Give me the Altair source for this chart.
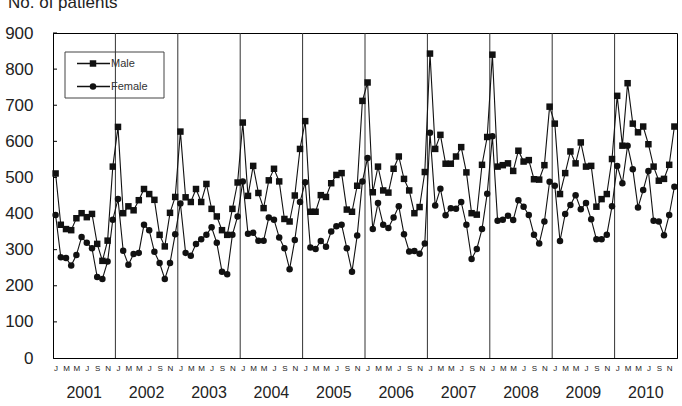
import altair as alt
import pandas as pd

years = [str(y) for y in range(2001, 2011)]
month_letters = ["J", "F", "M", "A", "M", "J", "J", "A", "S", "O", "N", "D"]
labelled_months = [0, 2, 4, 6, 8, 10]
y_ticks = [0, 100, 200, 300, 400, 500, 600, 700, 800, 900]
series_names = ["Male", "Female"]
title_text = "No. of patients"

male = [
    511, 369, 357, 354, 387, 401, 390, 399, 316, 269, 325, 530,  # 2001
    640, 401, 420, 409, 437, 468, 454, 438, 341, 309, 402, 446,  # 2002
    627, 445, 432, 468, 432, 482, 413, 392, 354, 341, 413, 486,  # 2003
    652, 449, 532, 457, 415, 492, 524, 489, 385, 378, 450, 579,  # 2004
    656, 405, 405, 451, 446, 484, 507, 512, 411, 405, 477, 712,  # 2005
    763, 459, 530, 464, 458, 524, 558, 496, 464, 401, 418, 515,  # 2006
    843, 579, 618, 538, 538, 558, 584, 514, 401, 397, 535, 612,  # 2007
    840, 530, 534, 539, 518, 574, 544, 548, 495, 494, 534, 696,  # 2008
    649, 454, 512, 572, 539, 597, 530, 532, 419, 440, 454, 551,  # 2009
    726, 588, 761, 649, 625, 641, 592, 530, 491, 496, 535, 641,  # 2010
]
female = [
    396, 279, 277, 256, 285, 335, 319, 304, 224, 219, 267, 383,  # 2001
    440, 297, 258, 288, 291, 369, 354, 294, 263, 219, 263, 343,  # 2002
    428, 291, 283, 316, 329, 341, 362, 319, 239, 232, 341, 392,  # 2003
    489, 344, 347, 325, 325, 389, 383, 334, 304, 246, 327, 432,  # 2004
    487, 306, 302, 324, 308, 350, 365, 369, 304, 239, 339, 489,  # 2005
    554, 357, 429, 369, 360, 389, 420, 343, 295, 296, 289, 317,  # 2006
    624, 422, 469, 395, 415, 413, 432, 369, 274, 302, 357, 455,  # 2007
    614, 380, 383, 394, 382, 437, 419, 396, 341, 317, 378, 488,  # 2008
    477, 324, 399, 424, 451, 412, 429, 384, 329, 329, 341, 420,  # 2009
    532, 484, 588, 523, 417, 465, 518, 380, 378, 340, 396, 474,  # 2010
]

n = len(male)
t = [i + 0.5 for i in range(n)]
df = pd.DataFrame({
    "t": t + t,
    "value": male + female,
    "series": ["Male"] * n + ["Female"] * n,
})

W, H = 624, 325
FONT = "Liberation Sans"
INK = "#111111"

xscale = alt.Scale(domain=[0, 12 * len(years)], nice=False, zero=False)
yscale = alt.Scale(domain=[0, 900], nice=False)

month_vals = [12 * k + m + 0.5 for k in range(len(years)) for m in labelled_months]
letters_js = "[" + ",".join("'%s'" % c for c in month_letters) + "]"

xaxis = alt.Axis(values=month_vals, labelExpr=letters_js + "[floor(datum.value) % 12]",
                 title=None, ticks=False, grid=False, domain=True, domainColor="black",
                 labelFontSize=8, labelFont=FONT, labelColor="#222", labelPadding=6,
                 labelOverlap=False, labelFlush=False, labelBaseline="top", labelAngle=0)
yaxis = alt.Axis(values=y_ticks, title=None, ticks=False, grid=False, domainColor="black",
                 labelFontSize=17, labelFont=FONT, labelColor="#222", labelPadding=20,
                 labelOverlap=False, labelFlush=False)

shape_scale = alt.Scale(domain=series_names, range=["square", "circle"])

base = alt.Chart(df)

lines = base.mark_line(color=INK, strokeWidth=1.1).encode(
    x=alt.X("t:Q", scale=xscale, axis=xaxis),
    y=alt.Y("value:Q", scale=yscale, axis=yaxis),
    detail="series:N",
)

points = base.mark_point(filled=True, size=42, color=INK, opacity=1).encode(
    x=alt.X("t:Q", scale=xscale, axis=xaxis),
    y=alt.Y("value:Q", scale=yscale, axis=yaxis),
    shape=alt.Shape("series:N", scale=shape_scale, legend=None),
)

bounds = pd.DataFrame({"b": [12 * k for k in range(1, len(years))]})
year_rules = alt.Chart(bounds).mark_rule(color="#333", strokeWidth=1).encode(
    x=alt.X("b:Q", scale=xscale, axis=xaxis)
)

ytick_df = pd.DataFrame({"v": y_ticks[1:]})
inner_ticks = alt.Chart(ytick_df).mark_rule(color="black", strokeWidth=1).encode(
    y=alt.Y("v:Q", scale=yscale, axis=yaxis), x=alt.value(0), x2=alt.value(4)
)

year_df = pd.DataFrame({"year": years, "c": [12 * k + 6 for k in range(len(years))]})
year_text = alt.Chart(year_df).mark_text(fontSize=16, font=FONT, color="#222", baseline="middle").encode(
    x=alt.X("c:Q", scale=xscale, axis=xaxis), y=alt.value(H + 35), text="year:N"
)

title_df = pd.DataFrame({"label": [title_text]})
title = alt.Chart(title_df).mark_text(fontSize=17, font=FONT, color="#222", align="left",
                                      baseline="alphabetic").encode(
    x=alt.value(-45), y=alt.value(-25), text="label:N"
)

leg_df = pd.DataFrame({"series": series_names, "ly": [30.5, 53.5]})
leg_box = alt.Chart(pd.DataFrame({"k": [0]})).mark_rect(fill=None, stroke="#444", strokeWidth=1).encode(
    x=alt.value(12), x2=alt.value(111), y=alt.value(19), y2=alt.value(65)
)
leg_lines = alt.Chart(leg_df).mark_rule(color=INK, strokeWidth=1.6).encode(
    x=alt.value(24), x2=alt.value(57), y=alt.Y("ly:Q", scale=None)
)
leg_pts = alt.Chart(leg_df).mark_point(filled=True, size=42, color=INK, opacity=1).encode(
    x=alt.value(40), y=alt.Y("ly:Q", scale=None),
    shape=alt.Shape("series:N", scale=shape_scale, legend=None),
)
leg_text = alt.Chart(leg_df).mark_text(fontSize=11, font=FONT, color="#333", align="left",
                                       baseline="middle").encode(
    x=alt.value(58), y=alt.Y("ly:Q", scale=None), text="series:N"
)

chart = alt.layer(
    leg_box, year_rules, inner_ticks, lines, points, year_text, title,
    leg_lines, leg_pts, leg_text,
).properties(
    width=W, height=H,
    autosize=alt.AutoSizeParams(type="none"),
    padding={"left": 53, "top": 33, "right": 5, "bottom": 48},
    background="white",
).configure_view(stroke="black", strokeWidth=1)

chart.save("out.html", embed_options={"renderer": "svg", "actions": False})
